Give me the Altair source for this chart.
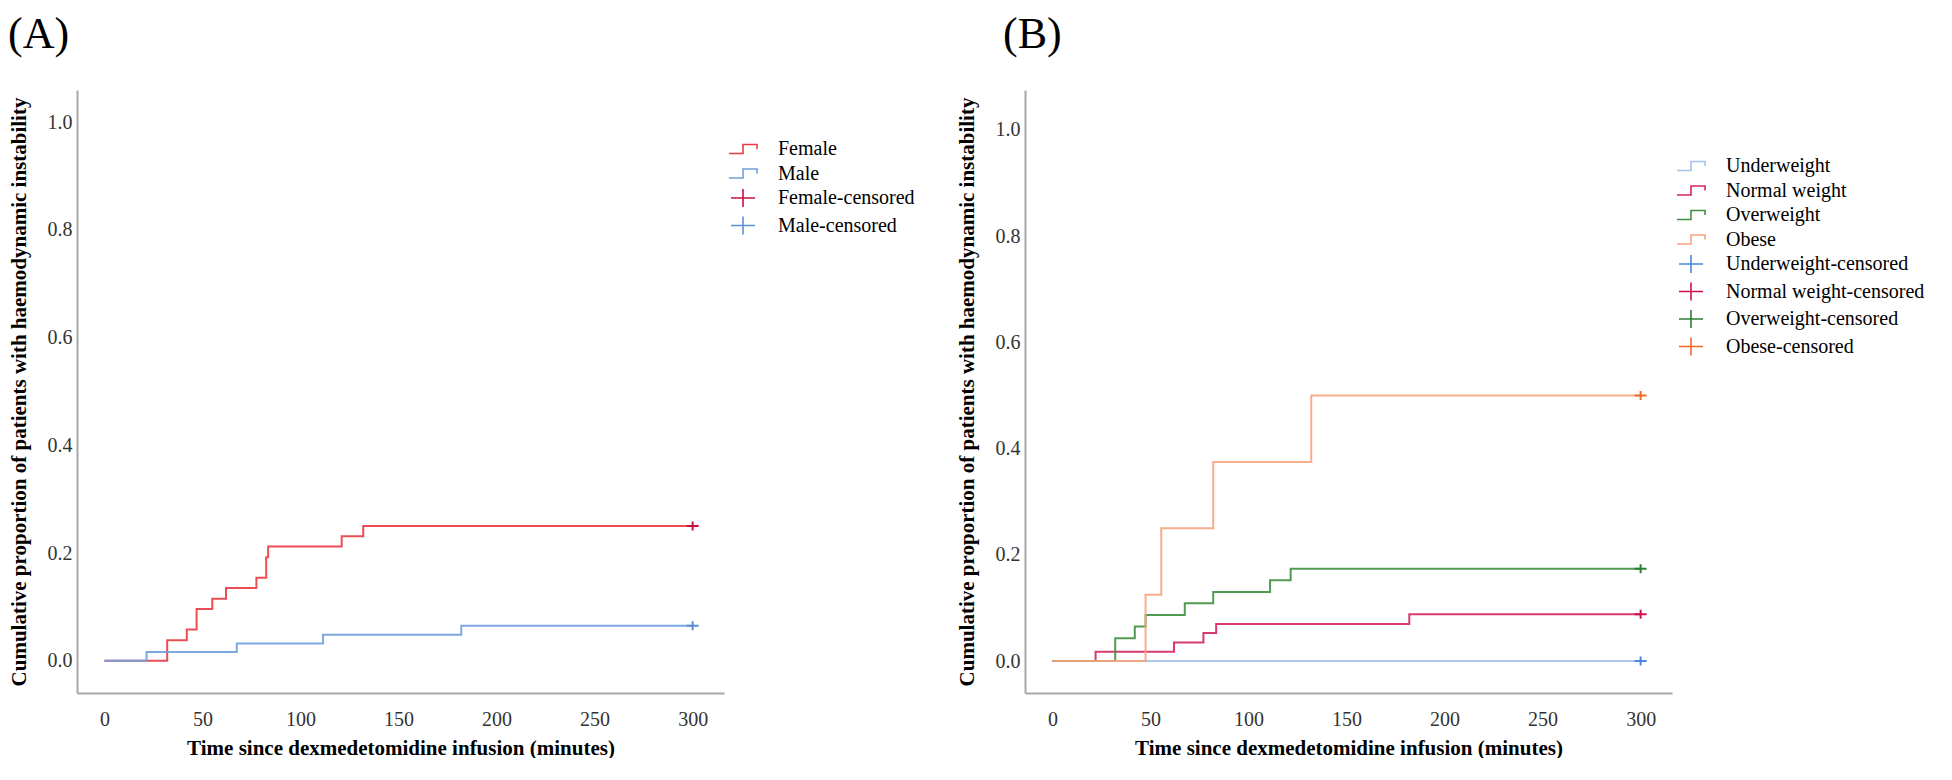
import altair as alt
import pandas as pd

FONT = "Liberation Serif"

# ---------------- Panel A : sex ----------------
a_labels = ["Female", "Male", "Female-censored", "Male-censored"]
a_colors = ["#ea3a3f", "#6f9edb", "#c8103c", "#5b8fd8"]
female_t = [0, 32, 42, 47, 55, 62, 77.5, 82.5, 83.5, 121, 132, 300]
female_v = [0, 0.038, 0.058, 0.096, 0.115, 0.135, 0.154, 0.192, 0.212, 0.231, 0.250, 0.250]
male_t = [0, 21.5, 67.5, 111.5, 182, 300]
male_v = [0, 0.016, 0.032, 0.048, 0.065, 0.065]
a_cens_label = ["Female-censored", "Male-censored"]
a_cens_t = [300, 300]
a_cens_v = [0.250, 0.065]

# ---------------- Panel B : BMI ----------------
b_labels = ["Underweight", "Normal weight", "Overweight", "Obese",
            "Underweight-censored", "Normal weight-censored",
            "Overweight-censored", "Obese-censored"]
b_colors = ["#a4c2ea", "#d6245e", "#3f8f3f", "#f5a47f",
            "#4a88e0", "#d0104c", "#2e7d32", "#f26a28"]
under_t = [0, 300]
under_v = [0, 0]
normal_t = [0, 22, 62, 77, 83.5, 182, 300]
normal_v = [0, 0.0175, 0.035, 0.053, 0.070, 0.088, 0.088]
over_t = [0, 32, 42, 47.5, 67.5, 82, 111, 121.5, 300]
over_v = [0, 0.043, 0.065, 0.087, 0.109, 0.130, 0.152, 0.174, 0.174]
obese_t = [0, 47.5, 55.5, 82, 132, 300]
obese_v = [0, 0.125, 0.250, 0.375, 0.500, 0.500]
b_cens_label = ["Underweight-censored", "Normal weight-censored",
                "Overweight-censored", "Obese-censored"]
b_cens_t = [300, 300, 300, 300]
b_cens_v = [0.0, 0.088, 0.174, 0.500]

x_ticks = [0, 50, 100, 150, 200, 250, 300]
y_ticks = [0.0, 0.2, 0.4, 0.6, 0.8, 1.0]
x_title = "Time since dexmedetomidine infusion (minutes)"
y_title = "Cumulative proportion of patients with haemodynamic instability"

STEP = "M-1.17,0.375H0V-0.375H1.17V0"
CROSS = "M-1.0,0H1.0M0,-0.75V0.75"


def curves_df(groups):
    rows = []
    for label, ts, vs in groups:
        for t, v in zip(ts, vs):
            rows.append({"label": label, "t": t, "v": v})
    return pd.DataFrame(rows)


def cens_df(labels, ts, vs):
    return pd.DataFrame({"label": labels, "t": ts, "v": vs})


def panel(title, title_dx, labels, colors, cdf, sdf, ydomain, legend_y):
    n = len(labels) // 2
    shapes = [STEP] * n + [CROSS] * n
    cscale = alt.Scale(domain=labels, range=colors)
    sscale = alt.Scale(domain=labels[:n], range=colors[:n])
    x = alt.X("t:Q", scale=alt.Scale(domain=[-14, 316], nice=False, zero=False),
              axis=alt.Axis(values=x_ticks, format="d", title=x_title,
                            labelPadding=16, titlePadding=8))
    y = alt.Y("v:Q", scale=alt.Scale(domain=ydomain, nice=False, zero=False),
              axis=alt.Axis(values=y_ticks, format=".1f", title=y_title,
                            labelPadding=5, titlePadding=18))
    lines = alt.Chart(cdf).mark_line(interpolate="step-after", strokeWidth=2, opacity=0.9).encode(
        x=x, y=y,
        stroke=alt.Stroke("label:N", scale=sscale, legend=None),
        detail="label:N",
    )
    leg = alt.Legend(title=None, orient="none", legendX=653, legendY=legend_y,
                     symbolSize=576, symbolStrokeWidth=1.6, labelFont=FONT,
                     labelFontSize=20, labelColor="black", rowPadding=1.5,
                     labelOffset=22, labelLimit=400)
    cens = alt.Chart(sdf).mark_point(size=144, filled=False, strokeWidth=2, opacity=1).encode(
        x=x, y=y,
        color=alt.Color("label:N", scale=cscale, legend=leg),
        shape=alt.Shape("label:N", scale=alt.Scale(domain=labels, range=shapes), legend=leg),
    )
    return alt.layer(lines, cens).properties(
        width=647, height=603,
        title=alt.TitleParams(title, anchor="start", frame="bounds", fontSize=44,
                              font=FONT, fontWeight="normal", color="black",
                              offset=33, dx=title_dx),
    )


chart_a = panel("(A)", 0, a_labels, a_colors,
                curves_df([("Female", female_t, female_v), ("Male", male_t, male_v)]),
                cens_df(a_cens_label, a_cens_t, a_cens_v),
                [-0.06, 1.06], 46)
chart_b = panel("(B)", 47, b_labels, b_colors,
                curves_df([("Underweight", under_t, under_v), ("Normal weight", normal_t, normal_v),
                           ("Overweight", over_t, over_v), ("Obese", obese_t, obese_v)]),
                cens_df(b_cens_label, b_cens_t, b_cens_v),
                [-0.06, 1.075], 63)

chart = alt.hconcat(chart_a, chart_b, spacing=41).resolve_scale(
    color="independent", shape="independent", stroke="independent",
    x="independent", y="independent"
).resolve_legend(
    color="independent", shape="independent"
).properties(padding={"top": 5, "left": 0, "right": 0, "bottom": 0}).configure_view(
    stroke=None
).configure_axis(
    labelFont=FONT, labelFontSize=20, labelColor="#333333", ticks=False,
    domainColor="#a8a8a8", domainWidth=2, grid=False,
    titleFont=FONT, titleFontSize=21, titleFontWeight="bold", titleColor="black",
)

chart.save("out.html", embed_options={"renderer": "svg", "actions": False})
